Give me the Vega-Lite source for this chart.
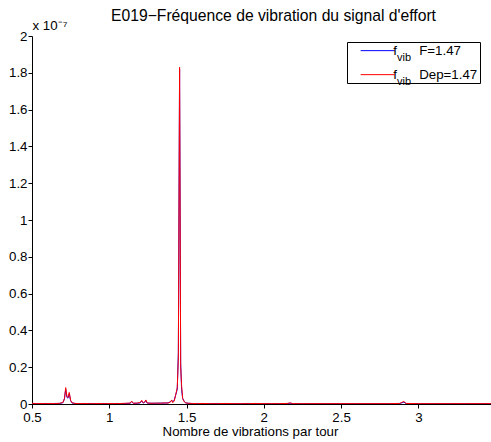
{
  "$schema": "https://vega.github.io/schema/vega-lite/v6.json",
  "autosize": "none",
  "padding": {"left": 32, "top": 36, "right": 0, "bottom": 38},
  "width": 459,
  "height": 368,
  "background": "white",
  "config": {"view": {"stroke": null}, "font": "Liberation Sans"},
  "title": {"text": "E019−Fréquence de vibration du signal d'effort", "fontSize": 15.7, "fontWeight": "normal", "font": "Liberation Sans", "color": "black", "anchor": "middle", "dx": 12, "offset": -7},
  "data": {"values": [
    {"x": 0.50, "y": 0.003, "series": "F"},
    {"x": 0.53, "y": 0.002, "series": "F"},
    {"x": 0.56, "y": 0.002, "series": "F"},
    {"x": 0.59, "y": 0.003, "series": "F"},
    {"x": 0.62, "y": 0.002, "series": "F"},
    {"x": 0.65, "y": 0.003, "series": "F"},
    {"x": 0.68, "y": 0.003, "series": "F"},
    {"x": 0.70, "y": 0.007, "series": "F"},
    {"x": 0.71, "y": 0.028, "series": "F"},
    {"x": 0.718, "y": 0.08, "series": "F"},
    {"x": 0.726, "y": 0.036, "series": "F"},
    {"x": 0.733, "y": 0.032, "series": "F"},
    {"x": 0.741, "y": 0.055, "series": "F"},
    {"x": 0.75, "y": 0.018, "series": "F"},
    {"x": 0.76, "y": 0.005, "series": "F"},
    {"x": 0.78, "y": 0.003, "series": "F"},
    {"x": 0.81, "y": 0.002, "series": "F"},
    {"x": 0.84, "y": 0.002, "series": "F"},
    {"x": 0.87, "y": 0.003, "series": "F"},
    {"x": 0.90, "y": 0.002, "series": "F"},
    {"x": 0.93, "y": 0.002, "series": "F"},
    {"x": 0.96, "y": 0.003, "series": "F"},
    {"x": 0.99, "y": 0.002, "series": "F"},
    {"x": 1.02, "y": 0.002, "series": "F"},
    {"x": 1.05, "y": 0.003, "series": "F"},
    {"x": 1.08, "y": 0.002, "series": "F"},
    {"x": 1.11, "y": 0.003, "series": "F"},
    {"x": 1.135, "y": 0.004, "series": "F"},
    {"x": 1.145, "y": 0.012, "series": "F"},
    {"x": 1.155, "y": 0.004, "series": "F"},
    {"x": 1.18, "y": 0.004, "series": "F"},
    {"x": 1.20, "y": 0.006, "series": "F"},
    {"x": 1.21, "y": 0.016, "series": "F"},
    {"x": 1.22, "y": 0.005, "series": "F"},
    {"x": 1.23, "y": 0.01, "series": "F"},
    {"x": 1.237, "y": 0.018, "series": "F"},
    {"x": 1.245, "y": 0.005, "series": "F"},
    {"x": 1.27, "y": 0.004, "series": "F"},
    {"x": 1.30, "y": 0.004, "series": "F"},
    {"x": 1.33, "y": 0.005, "series": "F"},
    {"x": 1.36, "y": 0.005, "series": "F"},
    {"x": 1.38, "y": 0.006, "series": "F"},
    {"x": 1.395, "y": 0.012, "series": "F"},
    {"x": 1.404, "y": 0.02, "series": "F"},
    {"x": 1.41, "y": 0.012, "series": "F"},
    {"x": 1.42, "y": 0.02, "series": "F"},
    {"x": 1.43, "y": 0.05, "series": "F"},
    {"x": 1.44, "y": 0.08, "series": "F"},
    {"x": 1.447, "y": 0.28, "series": "F"},
    {"x": 1.455, "y": 1.82, "series": "F"},
    {"x": 1.462, "y": 0.22, "series": "F"},
    {"x": 1.468, "y": 0.08, "series": "F"},
    {"x": 1.475, "y": 0.03, "series": "F"},
    {"x": 1.485, "y": 0.014, "series": "F"},
    {"x": 1.495, "y": 0.006, "series": "F"},
    {"x": 1.51, "y": 0.004, "series": "F"},
    {"x": 1.54, "y": 0.002, "series": "F"},
    {"x": 1.57, "y": 0.003, "series": "F"},
    {"x": 1.60, "y": 0.002, "series": "F"},
    {"x": 1.65, "y": 0.002, "series": "F"},
    {"x": 1.70, "y": 0.003, "series": "F"},
    {"x": 1.75, "y": 0.002, "series": "F"},
    {"x": 1.80, "y": 0.002, "series": "F"},
    {"x": 1.85, "y": 0.002, "series": "F"},
    {"x": 1.90, "y": 0.003, "series": "F"},
    {"x": 1.95, "y": 0.002, "series": "F"},
    {"x": 2.00, "y": 0.002, "series": "F"},
    {"x": 2.05, "y": 0.002, "series": "F"},
    {"x": 2.10, "y": 0.002, "series": "F"},
    {"x": 2.15, "y": 0.002, "series": "F"},
    {"x": 2.17, "y": 0.004, "series": "F"},
    {"x": 2.19, "y": 0.002, "series": "F"},
    {"x": 2.25, "y": 0.002, "series": "F"},
    {"x": 2.30, "y": 0.002, "series": "F"},
    {"x": 2.40, "y": 0.002, "series": "F"},
    {"x": 2.50, "y": 0.002, "series": "F"},
    {"x": 2.60, "y": 0.002, "series": "F"},
    {"x": 2.70, "y": 0.002, "series": "F"},
    {"x": 2.80, "y": 0.002, "series": "F"},
    {"x": 2.88, "y": 0.003, "series": "F"},
    {"x": 2.906, "y": 0.01, "series": "F"},
    {"x": 2.92, "y": 0.003, "series": "F"},
    {"x": 3.00, "y": 0.002, "series": "F"},
    {"x": 3.10, "y": 0.002, "series": "F"},
    {"x": 3.20, "y": 0.002, "series": "F"},
    {"x": 3.30, "y": 0.002, "series": "F"},
    {"x": 3.40, "y": 0.002, "series": "F"},
    {"x": 3.47, "y": 0.002, "series": "F"},
    {"x": 0.50, "y": 0.004, "series": "Dep"},
    {"x": 0.53, "y": 0.002, "series": "Dep"},
    {"x": 0.56, "y": 0.003, "series": "Dep"},
    {"x": 0.59, "y": 0.002, "series": "Dep"},
    {"x": 0.62, "y": 0.003, "series": "Dep"},
    {"x": 0.65, "y": 0.002, "series": "Dep"},
    {"x": 0.68, "y": 0.004, "series": "Dep"},
    {"x": 0.70, "y": 0.008, "series": "Dep"},
    {"x": 0.71, "y": 0.03, "series": "Dep"},
    {"x": 0.718, "y": 0.089, "series": "Dep"},
    {"x": 0.726, "y": 0.04, "series": "Dep"},
    {"x": 0.733, "y": 0.035, "series": "Dep"},
    {"x": 0.741, "y": 0.063, "series": "Dep"},
    {"x": 0.75, "y": 0.02, "series": "Dep"},
    {"x": 0.76, "y": 0.006, "series": "Dep"},
    {"x": 0.78, "y": 0.003, "series": "Dep"},
    {"x": 0.81, "y": 0.002, "series": "Dep"},
    {"x": 0.84, "y": 0.003, "series": "Dep"},
    {"x": 0.87, "y": 0.002, "series": "Dep"},
    {"x": 0.90, "y": 0.002, "series": "Dep"},
    {"x": 0.93, "y": 0.003, "series": "Dep"},
    {"x": 0.96, "y": 0.002, "series": "Dep"},
    {"x": 0.99, "y": 0.002, "series": "Dep"},
    {"x": 1.02, "y": 0.003, "series": "Dep"},
    {"x": 1.05, "y": 0.002, "series": "Dep"},
    {"x": 1.08, "y": 0.003, "series": "Dep"},
    {"x": 1.11, "y": 0.004, "series": "Dep"},
    {"x": 1.135, "y": 0.005, "series": "Dep"},
    {"x": 1.145, "y": 0.016, "series": "Dep"},
    {"x": 1.155, "y": 0.004, "series": "Dep"},
    {"x": 1.18, "y": 0.005, "series": "Dep"},
    {"x": 1.20, "y": 0.008, "series": "Dep"},
    {"x": 1.21, "y": 0.02, "series": "Dep"},
    {"x": 1.22, "y": 0.006, "series": "Dep"},
    {"x": 1.23, "y": 0.012, "series": "Dep"},
    {"x": 1.237, "y": 0.022, "series": "Dep"},
    {"x": 1.245, "y": 0.006, "series": "Dep"},
    {"x": 1.27, "y": 0.004, "series": "Dep"},
    {"x": 1.30, "y": 0.005, "series": "Dep"},
    {"x": 1.33, "y": 0.004, "series": "Dep"},
    {"x": 1.36, "y": 0.006, "series": "Dep"},
    {"x": 1.38, "y": 0.005, "series": "Dep"},
    {"x": 1.395, "y": 0.01, "series": "Dep"},
    {"x": 1.404, "y": 0.022, "series": "Dep"},
    {"x": 1.41, "y": 0.008, "series": "Dep"},
    {"x": 1.42, "y": 0.015, "series": "Dep"},
    {"x": 1.43, "y": 0.05, "series": "Dep"},
    {"x": 1.44, "y": 0.09, "series": "Dep"},
    {"x": 1.447, "y": 0.25, "series": "Dep"},
    {"x": 1.455, "y": 1.83, "series": "Dep"},
    {"x": 1.462, "y": 0.2, "series": "Dep"},
    {"x": 1.468, "y": 0.1, "series": "Dep"},
    {"x": 1.475, "y": 0.03, "series": "Dep"},
    {"x": 1.485, "y": 0.012, "series": "Dep"},
    {"x": 1.495, "y": 0.006, "series": "Dep"},
    {"x": 1.51, "y": 0.004, "series": "Dep"},
    {"x": 1.54, "y": 0.003, "series": "Dep"},
    {"x": 1.57, "y": 0.002, "series": "Dep"},
    {"x": 1.60, "y": 0.003, "series": "Dep"},
    {"x": 1.65, "y": 0.002, "series": "Dep"},
    {"x": 1.70, "y": 0.002, "series": "Dep"},
    {"x": 1.75, "y": 0.003, "series": "Dep"},
    {"x": 1.80, "y": 0.002, "series": "Dep"},
    {"x": 1.85, "y": 0.002, "series": "Dep"},
    {"x": 1.90, "y": 0.002, "series": "Dep"},
    {"x": 1.95, "y": 0.003, "series": "Dep"},
    {"x": 2.00, "y": 0.002, "series": "Dep"},
    {"x": 2.05, "y": 0.002, "series": "Dep"},
    {"x": 2.10, "y": 0.002, "series": "Dep"},
    {"x": 2.15, "y": 0.003, "series": "Dep"},
    {"x": 2.17, "y": 0.006, "series": "Dep"},
    {"x": 2.19, "y": 0.002, "series": "Dep"},
    {"x": 2.25, "y": 0.002, "series": "Dep"},
    {"x": 2.30, "y": 0.002, "series": "Dep"},
    {"x": 2.40, "y": 0.002, "series": "Dep"},
    {"x": 2.50, "y": 0.002, "series": "Dep"},
    {"x": 2.60, "y": 0.002, "series": "Dep"},
    {"x": 2.70, "y": 0.002, "series": "Dep"},
    {"x": 2.80, "y": 0.002, "series": "Dep"},
    {"x": 2.88, "y": 0.003, "series": "Dep"},
    {"x": 2.906, "y": 0.014, "series": "Dep"},
    {"x": 2.92, "y": 0.003, "series": "Dep"},
    {"x": 3.00, "y": 0.002, "series": "Dep"},
    {"x": 3.10, "y": 0.002, "series": "Dep"},
    {"x": 3.20, "y": 0.002, "series": "Dep"},
    {"x": 3.30, "y": 0.002, "series": "Dep"},
    {"x": 3.40, "y": 0.002, "series": "Dep"},
    {"x": 3.47, "y": 0.002, "series": "Dep"}
  ]},
  "mark": {"type": "line", "strokeWidth": 1, "clip": true},
  "encoding": {
    "x": {"field": "x", "type": "quantitative",
      "scale": {"domain": [0.5, 3.47], "nice": false, "zero": false},
      "axis": {"values": [0.5, 1, 1.5, 2, 2.5, 3], "format": "~g", "grid": false, "tickSize": 4, "tickColor": "black", "domainColor": "black", "labelColor": "black", "labelFontSize": 13.3, "labelFont": "Liberation Sans", "labelPadding": 2, "labelFlush": false,
        "encode": {"ticks": {"update": {"y2": {"value": -4}}}},
        "title": "Nombre de vibrations par tour", "titleFontSize": 13.3, "titleFontWeight": "normal", "titleFont": "Liberation Sans", "titleColor": "black", "titlePadding": 1, "titleX": 218}},
    "y": {"field": "y", "type": "quantitative",
      "scale": {"domain": [0, 2], "nice": false},
      "axis": {"values": [0, 0.2, 0.4, 0.6, 0.8, 1, 1.2, 1.4, 1.6, 1.8, 2], "format": "~g", "grid": false, "tickSize": 4, "tickColor": "black", "domainColor": "black", "labelColor": "black", "labelFontSize": 13.3, "labelFont": "Liberation Sans", "labelPadding": 1,
        "encode": {"ticks": {"update": {"x2": {"value": 4}}}},
        "title": "x 10⁻⁷", "titleAngle": 0, "titleAlign": "left", "titleBaseline": "alphabetic", "titleX": 0, "titleY": -7, "titleFontSize": 13.3, "titleFontWeight": "normal", "titleFont": "Liberation Sans", "titleColor": "black"}},
    "color": {"field": "series", "type": "nominal",
      "scale": {"domain": ["F", "Dep"], "range": ["#0000ff", "#ff0000"]},
      "legend": {"orient": "none", "legendX": 315, "legendY": 6, "title": null, "strokeColor": "black", "fillColor": "white", "padding": 2, "rowPadding": 10, "symbolType": "M1,0H7.8", "symbolSize": 100, "symbolStrokeWidth": 1, "symbolFillColor": "transparent", "symbolOpacity": 1, "labelFontSize": 13.3, "labelFont": "Liberation Sans", "labelColor": "black", "labelOffset": 31,
        "labelExpr": "datum.label == 'F' ? 'f\u00a0\u00a0\u00a0\u00a0\u00a0\u00a0F=1.47\u00a0\u00a0\u00a0' : 'f\u00a0\u00a0\u00a0\u00a0\u00a0\u00a0Dep=1.47\u00a0\u00a0\u00a0'"}},
    "opacity": {"field": "series", "type": "ordinal",
      "scale": {"range": [1, 1]},
      "legend": {"orient": "none", "legendX": 315, "legendY": 14, "title": null, "padding": 2, "rowPadding": 12.5, "symbolType": "M1,0H7.8", "symbolSize": 100, "symbolOpacity": 0, "symbolFillColor": "transparent", "symbolStrokeColor": "transparent", "labelFontSize": 11, "labelFont": "Liberation Sans", "labelColor": "black", "labelOffset": 36,
        "labelExpr": "'vib'"}}
  }
}
